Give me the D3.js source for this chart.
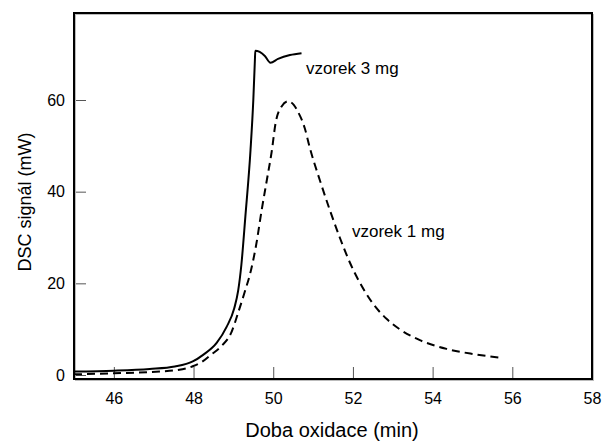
<!DOCTYPE html>
<html><head><meta charset="utf-8">
<script src="https://cdn.jsdelivr.net/npm/d3@7/dist/d3.min.js"></script>
<style>body{margin:0;background:#fff}svg{display:block}text{font-family:"Liberation Sans",Arial,sans-serif;fill:#000}</style>
</head><body><svg id="c" width="602" height="441"></svg>
<script>
const xTicks = [46, 48, 50, 52, 54, 56, 58];
const yTicks = [0, 20, 40, 60];
const seriesNames = ["vzorek 3 mg", "vzorek 1 mg"];
const x3mg = [45.00,46.00,46.90,47.53,47.98,48.24,48.58,48.83,49.02,49.12,49.20,49.30,49.43,49.50,49.54,49.55,49.66,49.79,49.93,50.12,50.42,50.71];
const y3mg = [0.76,0.94,1.31,1.85,2.95,4.4,7.0,10.5,14.5,18.4,24.0,34.5,49.09,60.0,68.73,70.76,70.48,69.6,68.14,68.96,69.8,70.2];
const x1mg = [45.00,46.00,47.15,47.60,47.98,48.20,48.42,48.70,48.95,49.12,49.28,49.44,49.57,49.71,49.84,49.96,50.06,50.21,50.37,50.52,50.62,50.79,50.92,51.17,51.42,51.67,51.92,52.17,52.50,52.85,53.17,53.68,54.35,55.00,55.67];
const y1mg = [0.15,0.37,0.76,1.1,1.9,2.8,4.3,6.3,9.3,13.6,18.0,22.8,28.3,36.0,42.55,48.66,55.0,58.6,59.7,58.9,57.45,53.9,49.5,42.5,36.0,30.0,24.6,20.2,15.6,12.2,10.0,7.6,5.7,4.6,3.8];

const svg = d3.select("#c");
const L = 74, R = 592, T = 13, B = 379;
const x = d3.scaleLinear().domain([45, 58]).range([L, R]);
const y = d3.scaleLinear().domain([0, 60]).range([375, 100]);

// ticks
const xa = svg.append("g").attr("transform", `translate(0,${B})`)
  .call(d3.axisBottom(x).tickValues(xTicks).tickSize(-12).tickPadding(16).tickFormat(d3.format("d")));
const ya = svg.append("g").attr("transform", `translate(${L},0)`)
  .call(d3.axisLeft(y).tickValues(yTicks).tickSize(-12).tickPadding(9).tickFormat(d3.format("d")));
[xa, ya].forEach(g => {
  g.select(".domain").remove();
  g.selectAll(".tick line").attr("stroke", "#555").attr("stroke-width", 1);
  g.selectAll(".tick text").attr("font-size", 16).attr("font-family", '"Liberation Sans",Arial,sans-serif').attr("fill", "#000");
});
xa.selectAll(".tick text").attr("dy", "0.71em").attr("y", 14);

// frame
svg.append("rect").attr("x", L + 1.5).attr("y", T + 1.5).attr("width", R - L).attr("height", B - T)
  .attr("fill", "none").attr("stroke", "#bbb").attr("stroke-width", 1);
svg.append("rect").attr("x", L).attr("y", T).attr("width", R - L).attr("height", B - T)
  .attr("fill", "none").attr("stroke", "#000").attr("stroke-width", 2);

const line = d3.line().x(d => x(d[0])).y(d => y(d[1])).curve(d3.curveMonotoneX);
svg.append("path").datum(x3mg.map((v, i) => [v, y3mg[i]]))
  .attr("d", line).attr("fill", "none").attr("stroke", "#000").attr("stroke-width", 2);
svg.append("path").datum(x1mg.map((v, i) => [v, y1mg[i]]))
  .attr("d", line).attr("fill", "none").attr("stroke", "#000").attr("stroke-width", 2)
  .attr("stroke-dasharray", "8,5");

svg.append("text").attr("x", 306).attr("y", 73.5).attr("font-size", 17).text(seriesNames[0]);
svg.append("text").attr("x", 352).attr("y", 236.5).attr("font-size", 17).text(seriesNames[1]);

svg.append("text").attr("x", 332).attr("y", 437).attr("text-anchor", "middle").attr("font-size", 20)
  .text("Doba oxidace (min)");
svg.append("text").attr("transform", "translate(31,202) rotate(-90)").attr("text-anchor", "middle")
  .attr("font-size", 18).text("DSC signál (mW)");
</script></body></html>
